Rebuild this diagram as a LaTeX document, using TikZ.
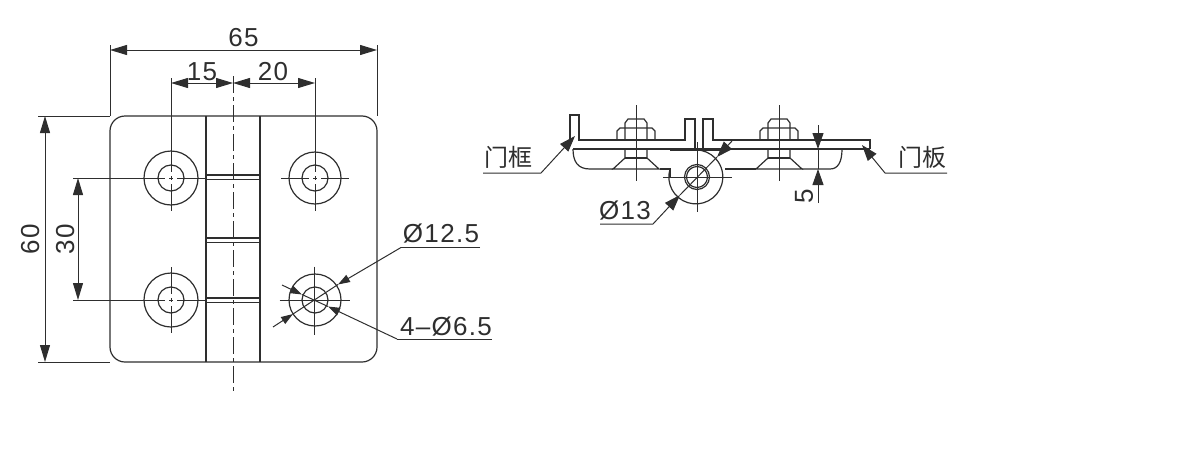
\documentclass[tikz,border=0pt]{standalone}
\usepackage{fontspec}
\setmainfont[LetterSpace=5]{Liberation Sans}
\newfontfamily\cjk{Noto Sans CJK SC}
\usetikzlibrary{arrows.meta}
\usetikzlibrary{calc,positioning}
\definecolor{ink}{HTML}{2E2E2E}
\tikzset{
    part/.style={draw=ink, line width=1.2pt},
    thin part/.style={draw=ink, line width=1pt},
    center line/.style={draw=ink, line width=1pt, dash pattern=on 17pt off 4pt on 4pt off 4pt},
    dim/.style={draw=ink, line width=1pt, {Stealth[length=17pt,width=10pt,inset=0pt]}-{Stealth[length=17pt,width=10pt,inset=0pt]}},
    lead/.style={draw=ink, line width=1pt, -{Stealth[length=16pt,width=11pt,inset=0pt]}},
    small lead/.style={draw=ink, line width=1pt, -{Stealth[length=12pt,width=8pt,inset=0pt]}},
    label/.style={text=ink, inner sep=0pt, font=\fontsize{26}{26}\selectfont},
}
\begin{document}
\begin{tikzpicture}[x=1pt,y=-1pt]
    \useasboundingbox (0,0) rectangle (1180,450);

    % plate
    \draw[part, rounded corners=15pt] (110,116) rectangle (377,362);
    \draw[part] (206,116) -- (206,362);
    \draw[part] (260,116) -- (260,362);
    \foreach \y in {175,238,298} {
        \draw[part] (206,\y) rectangle (260,\y+4.5);
    }
    \draw[center line] (233,76) -- (233,393);

    % holes
    \foreach \x/\y/\r in {171/178/27, 315/178/26, 171/300/27, 315/300/26} {
        \coordinate (hole) at (\x,\y);
        \draw[part] (hole) circle (\r);
        \draw[part] (hole) circle (13);
    }
    \foreach \x/\y in {171/178, 315/178, 171/300} {
        \coordinate (hole) at (\x,\y);
        \draw[thin part] ($(hole)+(0,-33)$) -- ($(hole)+(0,-6)$);
        \draw[thin part] ($(hole)+(0,6)$) -- ($(hole)+(0,33)$);
        \draw[thin part] ($(hole)+(6,0)$) -- ($(hole)+(34,0)$);
        \draw[thin part] ($(hole)+(-34,0)$) -- ($(hole)+(-6,0)$);
        \draw[thin part] ($(hole)+(-2,0)$) -- ($(hole)+(2,0)$);
        \draw[thin part] ($(hole)+(0,-2)$) -- ($(hole)+(0,2)$);
    }
    \coordinate (holeB) at (314.5,300.5);
    \draw[thin part] ($(holeB)+(0,-34)$) -- ($(holeB)+(0,34)$);
    \draw[thin part] ($(holeB)+(-35,0)$) -- ($(holeB)+(35,0)$);

    % plate dimensions
    \coordinate (w1) at (110,50);
    \coordinate (w2) at (377,50);
    \draw[dim] (w1) -- node[label, above=3pt] (dimW) {65} (w2);
    \draw[thin part] (110,45) -- (110,116);
    \draw[thin part] (377,45) -- (377,116);

    \coordinate (p1) at (171,83);
    \coordinate (p2) at (233,83);
    \coordinate (p3) at (315,83);
    \draw[dim] (p1) -- node[label, above=2pt] (dimA) {15} (p2);
    \draw[dim] (p2) -- node[label, above=2pt, xshift=-1pt] (dimB) {20} (p3);
    \draw[thin part] (171,78) -- (171,145);
    \draw[thin part] (315,78) -- (315,145);

    \coordinate (h1) at (45,116);
    \coordinate (h2) at (45,362);
    \draw[dim] (h1) -- node[label, rotate=90, anchor=south, yshift=5pt] (dimH) {60} (h2);
    \draw[thin part] (38,116) -- (110,116);
    \draw[thin part] (38,362) -- (110,362);

    \coordinate (s1) at (78,178);
    \coordinate (s2) at (78,300);
    \draw[dim] (s1) -- node[label, rotate=90, anchor=south, yshift=3pt] (dimS) {30} (s2);
    \draw[thin part] (73,178) -- (137,178);
    \draw[thin part] (73,300) -- (137,300);

    % hole leaders
    \node[label, anchor=base] (d125) at (441,242) {Ø12.5};
    \coordinate (d125a) at (401,247.5);
    \coordinate (d125b) at (480,247.5);
    \coordinate (d125c) at (338,284.5);
    \coordinate (d125d) at (273,327);
    \coordinate (d125e) at (293,314);
    \draw[thin part] (d125b) -- (d125a);
    \draw[small lead] (d125a) -- (d125c);
    \draw[thin part] (d125c) -- (d125e);
    \draw[small lead] (d125d) -- (d125e);

    \node[label, anchor=base] (d65) at (446,335) {4–Ø6.5};
    \coordinate (d65a) at (397,339);
    \coordinate (d65b) at (492,339);
    \coordinate (d65c) at (328,306.5);
    \coordinate (d65d) at (282,285);
    \coordinate (d65e) at (302,294.5);
    \draw[thin part] (d65b) -- (d65a);
    \draw[small lead] (d65a) -- (d65c);
    \draw[thin part] (d65c) -- (d65e);
    \draw[small lead] (d65d) -- (d65e);

    % side view, frame and door
    \draw[part] (570,140) -- (570,115) -- (579,115) -- (579,140) -- (685,140) -- (685,119) -- (695,119) -- (695,149);
    \draw[part] (870,149) -- (870,140) -- (713,140) -- (713,119) -- (703,119) -- (703,149);
    \draw[part] (573,149) -- (870,149);
    \draw[part, line width=2pt] (670,149.5) -- (724,149.5);
    \draw[part] (573,149) .. controls (573,162) and (578,169) .. (590,169) -- (613,169);
    \draw[part] (660,169) -- (670,169) -- (670,178);
    \draw[part] (725,169) -- (756,169);
    \draw[part] (802,169) -- (830,169) .. controls (838,169) and (842,162) .. (842,149);

    % side view, bolts
    \foreach \x in {636,779} {
        \draw[part] (\x-11,140) -- (\x-11,123) -- (\x-8,119) -- (\x+8,119) -- (\x+11,123) -- (\x+11,140);
        \draw[part] (\x-19,140) -- (\x-19,131) -- (\x-16,128) -- (\x+16,128) -- (\x+19,131) -- (\x+19,140);
        \draw[part] (\x-11,149) -- (\x-11,158) -- (\x-23,169) -- (\x+23,169) -- (\x+11,158) -- (\x+11,149);
        \draw[part] (\x-11,158) -- (\x+11,158);
        \draw[thin part] (\x,105) -- (\x,181);
    }

    % side view, pin
    \coordinate (pin) at (697,177);
    \draw[part] (670,169) arc (197:-90:27);
    \draw[part] (pin) circle (12.5);
    \draw[part] (pin) circle (10.5);
    \draw[thin part] ($(pin)+(0,-35)$) -- ($(pin)+(0,35)$);
    \draw[thin part] ($(pin)+(-34,0)$) -- ($(pin)+(35,0)$);

    % side view, leaders
    \node[label, anchor=base, font=\fontsize{24}{24}\selectfont\cjk] (frame) at (508,166) {门框};
    \coordinate (frame1) at (483,173);
    \coordinate (frame2) at (541,173);
    \coordinate (frame3) at (575,136);
    \draw[lead] (frame1) -- (frame2) -- (frame3);

    \node[label, anchor=base, font=\fontsize{24}{24}\selectfont\cjk] (door) at (922,166) {门板};
    \coordinate (door1) at (947,173);
    \coordinate (door2) at (885,173);
    \coordinate (door3) at (862,145);
    \draw[lead] (door1) -- (door2) -- (door3);

    \node[label, anchor=base] (d13) at (625,219) {Ø13};
    \coordinate (d13a) at (600,224);
    \coordinate (d13b) at (653,224);
    \coordinate (d13c) at (680,195);
    \coordinate (d13d) at (732,141);
    \coordinate (d13e) at (717,157);
    \draw[lead] (d13a) -- (d13b) -- (d13c);
    \draw[thin part] (d13c) -- (d13e);
    \draw[lead] (d13d) -- (d13e);

    % side view, thickness
    \coordinate (t1) at (818,125);
    \coordinate (t2) at (818,149);
    \coordinate (t3) at (818,203);
    \coordinate (t4) at (818,169);
    \draw[lead] (t1) -- (t2);
    \draw[thin part] (t2) -- (t4);
    \draw[lead] (t3) -- (t4);
    \node[label, rotate=90] (dimT) at (804,196) {5};
\end{tikzpicture}
\end{document}
